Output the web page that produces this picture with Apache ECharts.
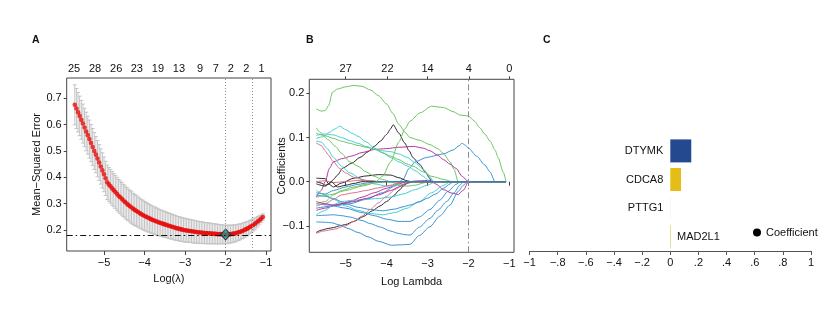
<!DOCTYPE html>
<html><head><meta charset="utf-8">
<script src="https://cdn.jsdelivr.net/npm/echarts@6/dist/echarts.min.js"></script>
<style>html,body{margin:0;padding:0;background:#fff}#c{width:839px;height:318px}</style>
</head><body><div id="c"></div>
<script>
// ---------- Panel A : cross-validation curve ----------
const logLambdaA = [
-5.72,-5.68,-5.64,-5.60,-5.56,-5.52,-5.48,-5.44,-5.40,-5.36,
-5.32,-5.28,-5.24,-5.20,-5.16,-5.12,-5.08,-5.04,-5.00,-4.96,
-4.92,-4.88,-4.84,-4.80,-4.76,-4.72,-4.68,-4.64,-4.60,-4.56,
-4.52,-4.48,-4.44,-4.40,-4.36,-4.32,-4.28,-4.24,-4.20,-4.16,
-4.12,-4.08,-4.04,-4.00,-3.96,-3.92,-3.88,-3.84,-3.80,-3.76,
-3.72,-3.68,-3.64,-3.60,-3.56,-3.52,-3.48,-3.44,-3.40,-3.36,
-3.32,-3.28,-3.24,-3.20,-3.16,-3.12,-3.08,-3.04,-3.00,-2.96,
-2.92,-2.88,-2.84,-2.80,-2.76,-2.72,-2.68,-2.64,-2.60,-2.56,
-2.52,-2.48,-2.44,-2.40,-2.36,-2.32,-2.28,-2.24,-2.20,-2.16,
-2.12,-2.08,-2.04,-2.00,-1.96,-1.92,-1.88,-1.84,-1.80,-1.76,
-1.72,-1.68,-1.64,-1.60,-1.56,-1.52,-1.48,-1.44,-1.40,-1.36,
-1.32,-1.28,-1.24,-1.20,-1.16,-1.12,-1.08];
const cvMSE = [
0.675,0.661,0.647,0.633,0.618,0.604,0.589,0.574,0.560,0.545,
0.530,0.515,0.500,0.486,0.471,0.456,0.441,0.426,0.411,0.396,
0.381,0.373,0.366,0.358,0.351,0.344,0.337,0.330,0.324,0.318,
0.312,0.306,0.300,0.295,0.290,0.285,0.280,0.276,0.272,0.268,
0.264,0.260,0.257,0.253,0.250,0.247,0.244,0.241,0.238,0.236,
0.233,0.231,0.228,0.226,0.224,0.222,0.220,0.218,0.216,0.214,
0.212,0.210,0.208,0.206,0.205,0.203,0.202,0.200,0.199,0.198,
0.197,0.196,0.195,0.194,0.193,0.192,0.191,0.190,0.190,0.189,
0.188,0.188,0.187,0.187,0.186,0.186,0.185,0.185,0.184,0.184,
0.184,0.183,0.183,0.183,0.183,0.184,0.184,0.185,0.186,0.187,
0.189,0.191,0.193,0.195,0.198,0.201,0.204,0.207,0.211,0.215,
0.219,0.223,0.228,0.233,0.238,0.243,0.249];
const cvSE = [
0.076,0.076,0.075,0.075,0.074,0.074,0.073,0.073,0.072,0.072,
0.071,0.070,0.070,0.069,0.069,0.068,0.067,0.067,0.066,0.065,
0.065,0.064,0.064,0.064,0.063,0.063,0.063,0.062,0.062,0.062,
0.061,0.061,0.061,0.060,0.060,0.060,0.059,0.059,0.058,0.057,
0.057,0.056,0.056,0.055,0.054,0.054,0.053,0.053,0.052,0.052,
0.051,0.051,0.050,0.050,0.049,0.049,0.049,0.048,0.048,0.048,
0.047,0.047,0.047,0.046,0.046,0.046,0.045,0.045,0.045,0.044,
0.044,0.044,0.043,0.043,0.043,0.042,0.042,0.042,0.041,0.041,
0.040,0.040,0.040,0.039,0.039,0.038,0.038,0.038,0.037,0.037,
0.036,0.036,0.035,0.035,0.035,0.034,0.034,0.033,0.033,0.032,
0.031,0.031,0.030,0.029,0.029,0.028,0.027,0.026,0.025,0.024,
0.023,0.022,0.020,0.018,0.016,0.014,0.012];
const lambdaMin = -2.0;
const lambda1se = -1.34;
const mseMin = 0.183;
const topPosA = [-5.74,-5.22,-4.70,-4.19,-3.67,-3.15,-2.63,-2.24,-1.87,-1.49,-1.11];
const topLabA = ['25','28','26','23','19','13','9','7','2','2','1'];
const ticksAx = [-5,-4,-3,-2,-1];
const ticksAy = [0.2,0.3,0.4,0.5,0.6,0.7];

// ---------- Panel B : coefficient paths ----------
const coef01 = [[-5.72,0.165],[-5.6,0.160],[-5.5,0.161],[-5.42,0.172],[-5.32,0.203],[-5.2,0.210],[-5.0,0.215],[-4.8,0.218],[-4.6,0.216],[-4.4,0.208],[-4.2,0.195],[-4.0,0.176],[-3.85,0.155],[-3.7,0.130],[-3.55,0.112],[-3.43,0.100],[-3.2,0.094],[-2.94,0.084],[-2.75,0.075],[-2.61,0.064],[-2.45,0.045],[-2.35,0.028],[-2.25,0.0],[-1.08,0]];
const coef02 = [[-5.72,0.0],[-5.6,-0.003],[-5.5,-0.008],[-5.4,-0.005],[-5.3,0.005],[-5.2,0.015],[-5.07,0.031],[-4.85,0.042],[-4.65,0.055],[-4.45,0.068],[-4.3,0.08],[-4.15,0.092],[-4.0,0.107],[-3.9,0.12],[-3.84,0.129],[-3.7,0.11],[-3.56,0.088],[-3.45,0.07],[-3.35,0.054],[-3.2,0.04],[-3.05,0.022],[-2.95,0.008],[-2.9,0],[-1.08,0]];
const coef03 = [[-5.72,-0.06],[-5.3,-0.055],[-4.9,-0.05],[-4.5,-0.04],[-4.1,-0.025],[-3.8,-0.01],[-3.6,0.005],[-3.45,0.03],[-3.3,0.045],[-3.02,0.055],[-2.61,0.063],[-2.37,0.072],[-2.22,0.082],[-2.16,0.087],[-2.08,0.083],[-2.0,0.076],[-1.8,0.058],[-1.6,0.038],[-1.47,0.022],[-1.35,0],[-1.08,0]];
const coef04 = [[-5.72,-0.035],[-5.6,-0.02],[-5.5,0.0],[-5.4,0.03],[-5.3,0.045],[-5.1,0.052],[-4.86,0.058],[-4.6,0.066],[-4.3,0.073],[-4.0,0.075],[-3.7,0.078],[-3.35,0.080],[-3.1,0.076],[-2.94,0.070],[-2.75,0.06],[-2.61,0.05],[-2.45,0.04],[-2.3,0.03],[-2.15,0.012],[-2.0,0],[-1.08,0]];
const coef05 = [[-5.72,-0.065],[-5.5,-0.06],[-5.2,-0.052],[-4.9,-0.045],[-4.6,-0.035],[-4.3,-0.025],[-4.0,-0.015],[-3.75,-0.006],[-3.5,0.0],[-3.2,0.002],[-2.94,0.003],[-2.8,-0.005],[-2.61,-0.018],[-2.4,-0.026],[-2.25,-0.029],[-2.12,-0.019],[-2.0,0],[-1.08,0]];
const coef06 = [[-5.72,0.008],[-5.5,0.007],[-5.42,-0.005],[-5.3,-0.012],[-5.1,-0.003],[-4.8,0.008],[-4.5,0.013],[-4.2,0.016],[-3.9,0.015],[-3.7,0.009],[-3.5,0.002],[-3.4,0],[-1.08,0]];
const coef07 = [[-5.72,-0.115],[-5.6,-0.11],[-5.43,-0.106],[-5.3,-0.104],[-5.15,-0.10],[-5.0,-0.097],[-4.8,-0.09],[-4.57,-0.079],[-4.35,-0.066],[-4.16,-0.055],[-4.0,-0.045],[-3.83,-0.032],[-3.7,-0.02],[-3.59,-0.01],[-3.45,0],[-1.08,0]];
const coef08 = [[-5.72,0.098],[-5.55,0.102],[-5.4,0.112],[-5.25,0.12],[-5.15,0.126],[-5.0,0.118],[-4.85,0.11],[-4.7,0.103],[-4.5,0.09],[-4.29,0.076],[-4.1,0.065],[-3.88,0.054],[-3.7,0.045],[-3.48,0.035],[-3.3,0.025],[-3.1,0.012],[-2.95,0],[-1.08,0]];
const coef09 = [[-5.72,0.105],[-5.5,0.108],[-5.3,0.106],[-5.1,0.10],[-4.9,0.093],[-4.7,0.087],[-4.5,0.08],[-4.3,0.074],[-4.1,0.07],[-3.9,0.068],[-3.7,0.063],[-3.5,0.055],[-3.3,0.043],[-3.1,0.028],[-2.95,0.012],[-2.85,0],[-1.08,0]];
const coef10 = [[-5.72,0.092],[-5.6,0.09],[-5.45,0.075],[-5.3,0.055],[-5.1,0.035],[-4.9,0.02],[-4.6,0.005],[-4.3,-0.005],[-4.0,-0.01],[-3.7,-0.008],[-3.45,-0.003],[-3.3,0],[-1.08,0]];
const coef11 = [[-5.72,-0.075],[-5.5,-0.065],[-5.3,-0.052],[-5.1,-0.045],[-4.8,-0.042],[-4.5,-0.04],[-4.2,-0.038],[-3.9,-0.035],[-3.6,-0.028],[-3.3,-0.018],[-3.0,-0.008],[-2.8,0],[-1.08,0]];
const coef12 = [[-5.72,-0.02],[-5.5,-0.03],[-5.3,-0.04],[-5.0,-0.055],[-4.7,-0.065],[-4.4,-0.072],[-4.1,-0.075],[-3.8,-0.07],[-3.5,-0.06],[-3.2,-0.045],[-2.9,-0.025],[-2.6,-0.008],[-2.45,0],[-1.08,0]];
const coef13 = [[-5.72,-0.091],[-5.5,-0.092],[-5.35,-0.093],[-5.15,-0.098],[-4.94,-0.106],[-4.7,-0.115],[-4.45,-0.125],[-4.2,-0.135],[-3.88,-0.144],[-3.64,-0.143],[-3.43,-0.142],[-3.2,-0.122],[-2.94,-0.102],[-2.7,-0.078],[-2.45,-0.053],[-2.25,-0.022],[-2.12,-0.008],[-2.03,0],[-1.08,0]];
const coef14 = [[-5.72,-0.077],[-5.5,-0.076],[-5.3,-0.075],[-5.1,-0.077],[-4.9,-0.08],[-4.6,-0.088],[-4.4,-0.095],[-4.15,-0.103],[-3.9,-0.112],[-3.72,-0.117],[-3.55,-0.12],[-3.43,-0.121],[-3.2,-0.103],[-2.94,-0.083],[-2.75,-0.065],[-2.53,-0.045],[-2.35,-0.025],[-2.21,-0.008],[-2.12,0],[-1.08,0]];
const coef15 = [[-5.72,-0.03],[-5.5,-0.033],[-5.3,-0.038],[-5.0,-0.05],[-4.7,-0.058],[-4.4,-0.063],[-4.1,-0.066],[-3.8,-0.062],[-3.6,-0.057],[-3.43,-0.053],[-3.2,-0.046],[-3.02,-0.038],[-2.8,-0.028],[-2.61,-0.015],[-2.45,-0.005],[-2.37,0],[-1.08,0]];
const coef16 = [[-5.72,-0.05],[-5.4,-0.053],[-5.0,-0.06],[-4.6,-0.07],[-4.3,-0.077],[-4.0,-0.085],[-3.7,-0.09],[-3.43,-0.09],[-3.2,-0.08],[-2.94,-0.063],[-2.7,-0.042],[-2.5,-0.022],[-2.3,-0.006],[-2.2,0],[-1.08,0]];
const coef17 = [[-5.72,0.088],[-5.6,0.082],[-5.5,0.07],[-5.43,0.061],[-5.3,0.045],[-5.15,0.03],[-5.0,0.02],[-4.8,0.01],[-4.5,0.003],[-4.2,0],[-1.08,0]];
const coef18 = [[-5.72,-0.117],[-5.55,-0.112],[-5.3,-0.108],[-5.0,-0.1],[-4.8,-0.09],[-4.6,-0.078],[-4.4,-0.063],[-4.2,-0.048],[-4.0,-0.033],[-3.8,-0.018],[-3.6,-0.006],[-3.5,0],[-1.08,0]];
const coef19 = [[-5.72,-0.055],[-5.5,-0.05],[-5.3,-0.04],[-5.1,-0.03],[-4.8,-0.025],[-4.5,-0.02],[-4.2,-0.014],[-3.9,-0.008],[-3.7,-0.003],[-3.55,0],[-1.08,0]];
const coef20 = [[-5.72,0.0],[-5.5,0.002],[-5.3,-0.002],[-5.0,0.0],[-4.7,0.003],[-4.4,0.002],[-4.1,0],[-1.08,0]];
const coef21 = [[-5.72,0.11],[-5.5,0.104],[-5.3,0.098],[-5.11,0.092],[-4.9,0.087],[-4.7,0.082],[-4.5,0.078],[-4.29,0.073],[-4.1,0.066],[-3.9,0.058],[-3.7,0.05],[-3.5,0.04],[-3.35,0.035],[-3.1,0.022],[-2.9,0.012],[-2.6,0.005],[-2.4,0],[-1.08,0]];
const coef22 = [[-5.72,0.122],[-5.6,0.11],[-5.43,0.095],[-5.25,0.08],[-5.11,0.065],[-4.9,0.045],[-4.7,0.035],[-4.5,0.022],[-4.3,0.012],[-4.1,0.005],[-3.9,0],[-3.7,-0.008],[-3.5,-0.01],[-3.3,-0.008],[-3.1,-0.003],[-3.0,0],[-1.08,0]];
const coef23 = [[-5.72,-0.05],[-5.5,-0.045],[-5.3,-0.03],[-5.1,-0.02],[-4.8,-0.012],[-4.5,-0.006],[-4.2,-0.002],[-4.0,0],[-1.08,0]];
const coef24 = [[-5.72,-0.045],[-5.5,-0.05],[-5.3,-0.053],[-5.1,-0.05],[-4.8,-0.045],[-4.5,-0.038],[-4.2,-0.03],[-3.9,-0.02],[-3.7,-0.012],[-3.5,-0.004],[-3.4,0],[-1.08,0]];
const coef25 = [[-5.72,-0.005],[-5.5,-0.01],[-5.35,0.0],[-5.2,-0.012],[-5.0,-0.008],[-4.8,-0.004],[-4.6,0],[-1.08,0]];
const coef26 = [[-5.72,-0.025],[-5.5,-0.028],[-5.3,-0.02],[-5.0,-0.012],[-4.7,-0.006],[-4.4,-0.002],[-4.2,0],[-1.08,0]];
const coef27 = [[-5.72,-0.035],[-5.4,-0.03],[-5.0,-0.02],[-4.6,-0.01],[-4.3,-0.003],[-4.1,0.012],[-3.9,0.045],[-3.7,0.09],[-3.55,0.12],[-3.43,0.137],[-3.18,0.156],[-2.9,0.171],[-2.61,0.168],[-2.35,0.158],[-2.21,0.151],[-2.0,0.149],[-1.85,0.137],[-1.72,0.122],[-1.6,0.108],[-1.47,0.092],[-1.35,0.072],[-1.27,0.054],[-1.15,0.022],[-1.08,0]];
const coefPaths = [coef01,coef02,coef03,coef04,coef05,coef06,coef07,coef08,coef09,coef10,coef11,coef12,coef13,coef14,coef15,coef16,coef17,coef18,coef19,coef20,coef21,coef22,coef23,coef24,coef25,coef26,coef27];
const lambdaSelB = -2.0;
const topPosB = [-5,-3.98,-3.0,-1.99,-1];
const topLabB = ['27','22','14','4','0'];
const ticksBx = [-5,-4,-3,-2,-1];
const ticksBy = [-0.1,0,0.1,0.2];

// ---------- Panel C : selected gene coefficients ----------
const genes = ['MAD2L1','PTTG1','CDCA8','DTYMK'];
const geneCoef = [0.005,0.0005,0.076,0.149];
const tickLabC = ['-1','-.8','-.6','-.4','-.2','0','.2','.4','.6','.8','1'];

// ---------- styles ----------
const FONT = 'Liberation Sans, Arial, sans-serif';
const pathColors = ['#6fc463','#2a2a2a','#3a93cf','#b8359f','#b8359f','#2a2a2a','#2a2a2a','#45cfd6','#45cfd6','#45cfd6',
  '#45cfd6','#45cfd6','#3a93cf','#3a93cf','#3a93cf','#3a93cf','#d8738a','#d8738a','#d8738a','#d8738a',
  '#6fc463','#6fc463','#6fc463','#b8359f','#2a2a2a','#3a93cf','#6fc463'];
const geneColors = ['#d9d36e','#6fc463','#e6bd17','#25498f'];
const geneLabelSide = ['right','left','left','left'];

const minus = s => s.replace('-', '\u2212');
const lookup = (pos, lab) => v => { for (let i = 0; i < pos.length; i++) if (Math.abs(pos[i] - v) < 1e-6) return lab[i]; return ''; };

const chart = echarts.init(document.getElementById('c'), null, {renderer: 'canvas'});
const axisTxt = {fontFamily: FONT, fontSize: 11, color: '#111'};
const nameTxt = {fontFamily: FONT, fontSize: 11, color: '#111'};
const boxGrid = {show: true, borderColor: '#444', borderWidth: 1, backgroundColor: 'transparent'};

const errData = logLambdaA.map((x, i) => [x, cvMSE[i] - cvSE[i], cvMSE[i] + cvSE[i]]);
const ptData = logLambdaA.map((x, i) => [x, cvMSE[i]]);

const series = [];
series.push({
  type: 'custom', xAxisIndex: 0, yAxisIndex: 0, z: 1, silent: true,
  data: errData, encode: {x: 0, y: [1, 2]},
  renderItem: function (params, api) {
    const x = api.value(0), lo = api.value(1), hi = api.value(2);
    const p1 = api.coord([x, hi]), p2 = api.coord([x, lo]);
    const w = 2, st = {stroke: '#c4c4c4', lineWidth: 1};
    return {type: 'group', children: [
      {type: 'line', shape: {x1: p1[0], y1: p1[1], x2: p2[0], y2: p2[1]}, style: st},
      {type: 'line', shape: {x1: p1[0] - w, y1: p1[1], x2: p1[0] + w, y2: p1[1]}, style: st},
      {type: 'line', shape: {x1: p2[0] - w, y1: p2[1], x2: p2[0] + w, y2: p2[1]}, style: st}
    ]};
  }
});
series.push({
  type: 'line', xAxisIndex: 0, yAxisIndex: 0, data: [], z: 2, silent: true,
  markLine: {
    silent: true, symbol: ['none', 'none'], label: {show: false}, animation: false,
    data: [
      {xAxis: lambdaMin, lineStyle: {type: [1, 2], color: '#8a8a8a', width: 1}},
      {xAxis: lambda1se, lineStyle: {type: [1, 2], color: '#8a8a8a', width: 1}},
      {yAxis: mseMin, lineStyle: {type: [6, 3, 1.5, 3], color: '#111', width: 1}}
    ]
  }
});
series.push({
  type: 'scatter', xAxisIndex: 0, yAxisIndex: 0, z: 3, silent: true,
  data: ptData, symbolSize: 4.6, itemStyle: {color: '#e80d0d'}
});
series.push({
  type: 'scatter', xAxisIndex: 0, yAxisIndex: 0, z: 4, silent: true,
  data: [[lambdaMin, cvMSE[logLambdaA.indexOf(lambdaMin)]]], symbol: 'diamond', symbolSize: [10, 11],
  itemStyle: {color: '#1f8c87', borderColor: '#1b1b1b', borderWidth: 1}
});

coefPaths.forEach((p, i) => {
  series.push({
    type: 'line', xAxisIndex: 2, yAxisIndex: 1, data: p, showSymbol: false, symbol: 'none',
    smooth: 0.25, smoothMonotone: 'x', silent: true, z: 2 + i * 0.01,
    lineStyle: {width: 1, color: pathColors[i]},
    markLine: i === 0 ? {
      silent: true, symbol: ['none', 'none'], label: {show: false}, animation: false,
      data: [{xAxis: lambdaSelB, lineStyle: {type: [6, 3, 1.5, 3], color: '#8a8a8a', width: 1}}]
    } : undefined
  });
});

series.push({
  type: 'bar', name: 'Coefficient', xAxisIndex: 4, yAxisIndex: 2, barWidth: 23, silent: true,
  itemStyle: {color: '#000'},
  data: geneCoef.map((v, i) => ({
    value: v, itemStyle: {color: geneColors[i]},
    label: {show: true, position: geneLabelSide[i], distance: geneLabelSide[i] === 'left' ? 7 : 6,
            formatter: '{b}', fontFamily: FONT, fontSize: 11, color: '#111'}
  }))
});

chart.setOption({
  animation: false,
  backgroundColor: '#fff',
  title: [
    {text: 'A', left: 32, top: 35, padding: 0, textStyle: {fontFamily: FONT, fontSize: 10.5, fontWeight: 'bold', color: '#111'}},
    {text: 'B', left: 306, top: 35, padding: 0, textStyle: {fontFamily: FONT, fontSize: 10.5, fontWeight: 'bold', color: '#111'}},
    {text: 'C', left: 543, top: 35, padding: 0, textStyle: {fontFamily: FONT, fontSize: 10.5, fontWeight: 'bold', color: '#111'}}
  ],
  legend: {
    data: ['Coefficient'], left: 748, top: 222, icon: 'circle', itemWidth: 8, itemHeight: 8,
    itemStyle: {color: '#000'}, textStyle: {fontFamily: FONT, fontSize: 11, color: '#111'}, selectedMode: false
  },
  grid: [
    Object.assign({left: 66.7, top: 78, width: 204.3, height: 173}, boxGrid),
    Object.assign({left: 309.3, top: 79.3, width: 204.7, height: 173}, boxGrid),
    {left: 529.6, top: 136.6, width: 281.4, height: 114.4, show: false}
  ],
  xAxis: [
    {gridIndex: 0, type: 'value', position: 'bottom', min: -5.92, max: -0.88,
     axisLine: {show: false}, splitLine: {show: false},
     axisTick: {show: true, customValues: ticksAx, length: 4, lineStyle: {color: '#444'}},
     axisLabel: Object.assign({customValues: ticksAx, margin: 6, formatter: v => minus(String(v))}, axisTxt),
     name: 'Log(\u03bb)', nameLocation: 'middle', nameGap: 22, nameMoveOverlap: false, nameTextStyle: nameTxt},
    {gridIndex: 0, type: 'value', position: 'top', min: -5.92, max: -0.88,
     axisLine: {show: false}, splitLine: {show: false}, axisTick: {show: false},
     axisLabel: Object.assign({customValues: topPosA, margin: 4, formatter: lookup(topPosA, topLabA)}, axisTxt)},
    {gridIndex: 1, type: 'value', position: 'bottom', min: -5.89, max: -0.885,
     axisLine: {show: false}, splitLine: {show: false},
     axisTick: {show: true, customValues: ticksBx, length: 4, lineStyle: {color: '#444'}},
     axisLabel: Object.assign({customValues: ticksBx, margin: 6, formatter: v => minus(String(v))}, axisTxt),
     name: 'Log Lambda', nameLocation: 'middle', nameGap: 24, nameMoveOverlap: false, nameTextStyle: nameTxt},
    {gridIndex: 1, type: 'value', position: 'top', min: -5.89, max: -0.885,
     axisLine: {show: false}, splitLine: {show: false},
     axisTick: {show: true, customValues: topPosB, length: 3, lineStyle: {color: '#444'}},
     axisLabel: Object.assign({customValues: topPosB, margin: 5, formatter: lookup(topPosB, topLabB)}, axisTxt)},
    {gridIndex: 2, type: 'value', position: 'bottom', min: -1, max: 1, interval: 0.2,
     axisLine: {show: true, onZero: false, lineStyle: {color: '#555', width: 1}}, splitLine: {show: false},
     axisTick: {show: true, length: 4, lineStyle: {color: '#555'}},
     axisLabel: Object.assign({margin: 6, formatter: v => minus(tickLabC[Math.round((v + 1) / 0.2)])}, axisTxt)}
  ],
  yAxis: [
    {gridIndex: 0, type: 'value', min: 0.12, max: 0.777,
     axisLine: {show: false}, splitLine: {show: false},
     axisTick: {show: true, customValues: ticksAy, length: 3, lineStyle: {color: '#444'}},
     axisLabel: Object.assign({customValues: ticksAy, margin: 5, formatter: v => v.toFixed(1)}, axisTxt),
     name: 'Mean\u2212Squared Error', nameLocation: 'middle', nameGap: 24, nameMoveOverlap: false, nameTextStyle: nameTxt},
    {gridIndex: 1, type: 'value', min: -0.16, max: 0.232,
     axisLine: {show: false}, splitLine: {show: false},
     axisTick: {show: true, customValues: ticksBy, length: 3, lineStyle: {color: '#444'}},
     axisLabel: Object.assign({customValues: ticksBy, margin: 5, formatter: v => minus(v.toFixed(1))}, axisTxt),
     name: 'Coefficients', nameLocation: 'middle', nameGap: 22, nameMoveOverlap: false, nameTextStyle: nameTxt},
    {gridIndex: 2, type: 'category', data: genes,
     axisLine: {show: false}, axisTick: {show: false}, splitLine: {show: false},
     axisLabel: {show: false}}
  ],
  series: series
});
</script>
</body></html>
